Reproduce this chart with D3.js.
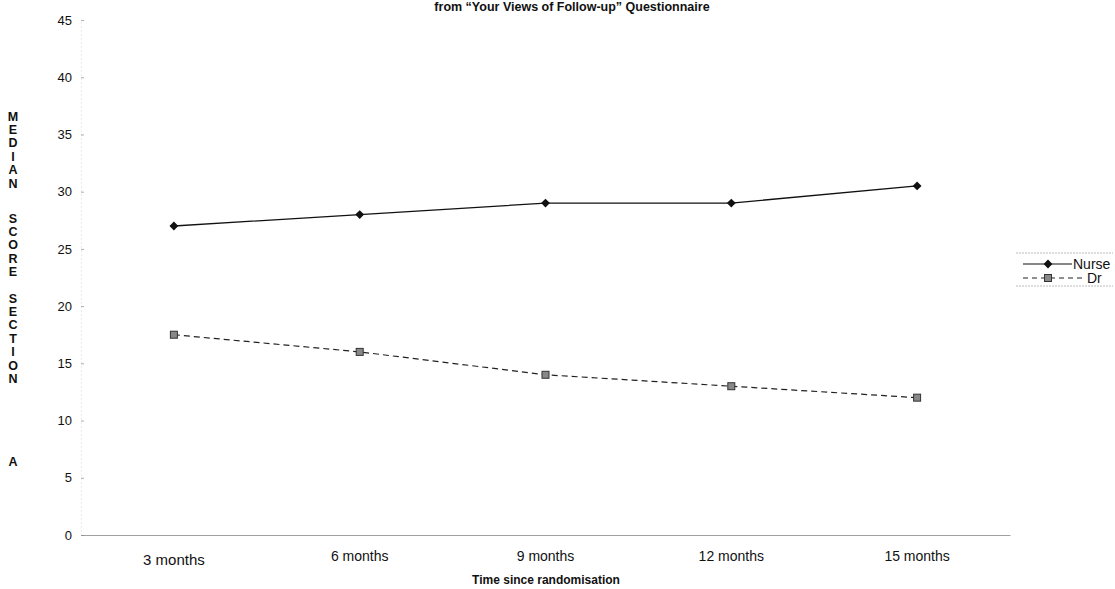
<!DOCTYPE html>
<html>
<head>
<meta charset="utf-8">
<script src="https://cdn.jsdelivr.net/npm/d3@7"></script>
<style>
  html, body { margin: 0; padding: 0; background: #fff; }
  svg { display: block; }
  text { font-family: Arial, "Liberation Sans", sans-serif; fill: #111; }
</style>
</head>
<body>
<svg id="chart" width="1115" height="589"></svg>
<script>
// Median Section A scores from the follow-up questionnaire
const categories = ["3 months", "6 months", "9 months", "12 months", "15 months"];
const nurseValues = [27, 28, 29, 29, 30.5];
const drValues = [17.5, 16, 14, 13, 12];
const yTicks = [0, 5, 10, 15, 20, 25, 30, 35, 40, 45];
const seriesNames = ["Nurse", "Dr"];
const titleText = "from \u201cYour Views of Follow-up\u201d Questionnaire";
const xTitle = "Time since randomisation";
const yTitleWords = ["MEDIAN", "SCORE", "SECTION", "A"];

const svg = d3.select("#chart");

const x = d3.scaleBand().domain(categories).range([81, 1010]);
const y = d3.scaleLinear().domain([0, 45]).range([535, 20]);
const cx = d => x(d) + x.bandwidth() / 2;

// title
svg.append("text")
  .attr("x", 572).attr("y", 11)
  .attr("text-anchor", "middle")
  .attr("font-weight", "bold").attr("font-size", 12.5)
  .text(titleText);

// y axis
const yAxis = svg.append("g").attr("transform", "translate(81,0)")
  .call(d3.axisLeft(y).tickValues(yTicks).tickSize(0).tickPadding(9));
yAxis.select(".domain").attr("stroke", "#ccc").attr("stroke-width", 0.8).attr("stroke-dasharray", "1,3");
yAxis.selectAll(".tick text").attr("font-size", 13).attr("fill", "#111");
yAxis.selectAll(".tick").append("line")
  .attr("x1", 0).attr("x2", 3).attr("stroke", "#999").attr("stroke-width", 0.8);

// x axis
const xAxis = svg.append("g").attr("transform", "translate(0,535)")
  .call(d3.axisBottom(x).tickSize(0).tickPadding(16));
xAxis.select(".domain").attr("stroke", "#888").attr("stroke-width", 0.8);
xAxis.selectAll(".tick text").attr("font-size", 14).attr("fill", "#111");
xAxis.selectAll(".tick text")
  .filter(d => d === categories[0])
  .attr("font-family", "'Liberation Serif', 'Times New Roman', serif")
  .attr("font-size", 15).attr("dy", "0.95em");

// axis titles
svg.append("text")
  .attr("x", 546).attr("y", 584)
  .attr("text-anchor", "middle")
  .attr("font-weight", "bold").attr("font-size", 12)
  .text(xTitle);

const wordTops = [116, 218, 298, 461];
const letterStep = 13.4;
const yTitle = svg.append("g");
yTitleWords.forEach((w, i) => {
  w.split("").forEach((ch, j) => {
    yTitle.append("text")
      .attr("x", 13).attr("y", wordTops[i] + j * letterStep)
      .attr("dy", "0.36em")
      .attr("text-anchor", "middle")
      .attr("font-weight", "bold").attr("font-size", 12.5)
      .text(ch);
  });
});

// lines
const line = d3.line().x(d => cx(d.c)).y(d => y(d.v));
const nurseData = categories.map((c, i) => ({ c, v: nurseValues[i] }));
const drData = categories.map((c, i) => ({ c, v: drValues[i] }));

svg.append("path").datum(nurseData)
  .attr("d", line).attr("fill", "none")
  .attr("stroke", "#111").attr("stroke-width", 1.3);
svg.append("path").datum(drData)
  .attr("d", line).attr("fill", "none")
  .attr("stroke", "#222").attr("stroke-width", 1.2)
  .attr("stroke-dasharray", "6,4");

const diamond = d3.symbol().type(d3.symbolDiamond2 || d3.symbolDiamond).size(50);
svg.append("g").selectAll("path").data(nurseData).join("path")
  .attr("transform", d => `translate(${cx(d.c)},${y(d.v)})`)
  .attr("d", diamond).attr("fill", "#111");

svg.append("g").selectAll("rect").data(drData).join("rect")
  .attr("x", d => cx(d.c) - 3.5).attr("y", d => y(d.v) - 3.5)
  .attr("width", 7).attr("height", 7)
  .attr("fill", "#888").attr("stroke", "#333").attr("stroke-width", 1);

// legend
const lg = svg.append("g");
lg.append("line").attr("x1", 1016).attr("x2", 1113).attr("y1", 253).attr("y2", 253)
  .attr("stroke", "#aaa").attr("stroke-width", 0.8).attr("stroke-dasharray", "2,1");
lg.append("line").attr("x1", 1016).attr("x2", 1113).attr("y1", 286).attr("y2", 286)
  .attr("stroke", "#aaa").attr("stroke-width", 0.8).attr("stroke-dasharray", "2,1");

lg.append("line").attr("x1", 1023).attr("x2", 1072).attr("y1", 264).attr("y2", 264)
  .attr("stroke", "#111").attr("stroke-width", 1.2);
lg.append("path").attr("transform", "translate(1048,264)").attr("d", diamond).attr("fill", "#111");
lg.append("text").attr("x", 1073).attr("y", 264).attr("dy", "0.35em")
  .attr("font-size", 14).text(seriesNames[0]);

lg.append("line").attr("x1", 1023).attr("x2", 1085).attr("y1", 278).attr("y2", 278)
  .attr("stroke", "#222").attr("stroke-width", 1.1).attr("stroke-dasharray", "5,4");
lg.append("rect").attr("x", 1044.5).attr("y", 274.5).attr("width", 7).attr("height", 7)
  .attr("fill", "#888").attr("stroke", "#333");
lg.append("text").attr("x", 1087).attr("y", 278).attr("dy", "0.35em")
  .attr("font-size", 14).text(seriesNames[1]);
</script>
</body>
</html>
